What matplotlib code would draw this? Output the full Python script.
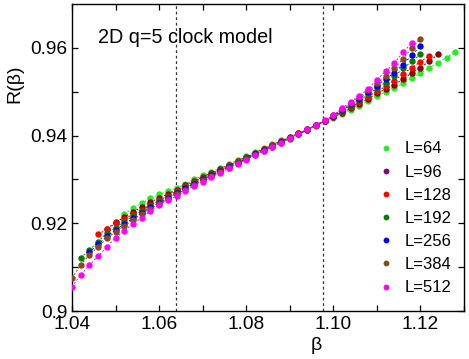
import matplotlib
matplotlib.use("Agg")
import matplotlib.pyplot as plt
from matplotlib.lines import Line2D

plt.rcParams['font.family'] = ['Liberation Sans', 'DejaVu Sans']

beta_grid = [1.040, 1.042, 1.044, 1.046, 1.048, 1.050, 1.052, 1.054, 1.056, 1.058,
             1.060, 1.062, 1.064, 1.066, 1.068, 1.070, 1.072, 1.074, 1.076, 1.078,
             1.080, 1.082, 1.084, 1.086, 1.088, 1.090, 1.092, 1.094, 1.096, 1.098,
             1.100, 1.102, 1.104, 1.106, 1.108, 1.110, 1.112, 1.114, 1.116, 1.118,
             1.120, 1.122, 1.124, 1.126, 1.128]

labels = ["L=64", "L=96", "L=128", "L=192", "L=256", "L=384", "L=512"]
start_index = [6, 4, 3, 1, 2, 0, 0]

R_64 = [.9222, .9234, .9246, .9257, .9266, .9273, .9280, .9290, .9300, .9309,
        .9317, .9326, .9335, .9344, .9353, .9362, .9371, .9380, .9389, .9397,
        .9406, .9415, .9424, .9433, .9441, .9450, .9459, .9468, .9479, .9490,
        .9499, .9508, .9519, .9531, .9543, .9554, .9566, .9578, .9591]
R_96 = [.9188, .9202, .9214, .9226, .9237, .9248, .9258, .9267, .9276, .9287,
        .9297, .9306, .9315, .9324, .9333, .9342, .9351, .9360, .9370, .9379,
        .9388, .9396, .9405, .9414, .9424, .9433, .9442, .9452, .9462, .9472,
        .9484, .9496, .9506, .9516, .9528, .9543, .9555, .9569, .9585]
R_128 = [.9175, .9186, .9200, .9209, .9221, .9231, .9242, .9252, .9263, .9274,
         .9284, .9295, .9304, .9313, .9322, .9332, .9341, .9350, .9359, .9369,
         .9378, .9387, .9395, .9405, .9414, .9423, .9433, .9443, .9454, .9465,
         .9476, .9489, .9501, .9512, .9525, .9541, .9555, .9568, .9582]
R_192 = [.9121, .9139, .9158, .9178, .9190, .9204, .9216, .9229, .9240, .9251,
         .9261, .9271, .9282, .9292, .9302, .9311, .9320, .9330, .9340, .9348,
         .9358, .9368, .9376, .9386, .9394, .9404, .9413, .9423, .9434, .9444,
         .9456, .9468, .9480, .9494, .9508, .9521, .9535, .9553, .9569, .9585]
R_256 = [.9134, .9152, .9170, .9185, .9198, .9211, .9224, .9236, .9247, .9258,
         .9268, .9280, .9290, .9300, .9309, .9319, .9329, .9338, .9347, .9357,
         .9366, .9375, .9385, .9394, .9403, .9413, .9423, .9434, .9445, .9458,
         .9471, .9484, .9499, .9514, .9529, .9543, .9562, .9583, .9604]
R_384 = [.9075, .9105, .9128, .9146, .9166, .9180, .9194, .9208, .9221, .9233,
         .9244, .9255, .9266, .9277, .9288, .9298, .9307, .9317, .9327, .9337,
         .9346, .9356, .9365, .9374, .9384, .9393, .9403, .9413, .9422, .9434,
         .9446, .9460, .9474, .9488, .9503, .9519, .9535, .9553, .9575, .9600,
         .9621]
R_512 = [.9055, .9082, .9105, .9125, .9146, .9167, .9183, .9199, .9213, .9228,
         .9242, .9253, .9262, .9274, .9285, .9295, .9305, .9315, .9325, .9335,
         .9345, .9355, .9365, .9375, .9384, .9394, .9404, .9414, .9423, .9435,
         .9446, .9462, .9477, .9491, .9507, .9527, .9547, .9565, .9590, .9611]
series = [R_64, R_96, R_128, R_192, R_256, R_384, R_512]

colors = ["#22ee22", "#8b0000", "#ff0000", "#007f00", "#0000ff", "#8b4a12", "#ff00ff"]
legend_colors = ["#22ee22", "#800080", "#ff0000", "#007f00", "#0000ff", "#8b4a12", "#ff00ff"]

vlines = [1.0638, 1.0977]
xticks = [1.04, 1.06, 1.08, 1.10, 1.12]
xtick_labels = ["1.04", "1.06", "1.08", "1.10", "1.12"]
yticks = [0.90, 0.92, 0.94, 0.96]
ytick_labels = ["0.9", "0.92", "0.94", "0.96"]

fig = plt.figure(figsize=(4.69, 3.59), dpi=100)
ax = fig.add_axes([72/469, 1-311/359, 392/469, 307/359])

for R, st, c in zip(series, start_index, colors):
    b = beta_grid[st:st + len(R)]
    ax.plot(b, R, linestyle=(0, (2, 2)), lw=0.7, color=c, marker='o',
            markersize=4.6, markeredgewidth=0, zorder=3)

for v in vlines:
    ax.axvline(v, color='#333333', lw=0.9, linestyle=(0, (2.2, 2.2)), zorder=1)

ax.set_xlim(1.04, 1.13)
ax.set_ylim(0.90, 0.97)
ax.set_xticks(xticks)
ax.set_xticklabels(xtick_labels)
ax.set_yticks(yticks)
ax.set_yticklabels(ytick_labels)
ax.set_xticks([1.05, 1.07, 1.09, 1.11, 1.13], minor=True)
ax.set_yticks([0.91, 0.93, 0.95], minor=True)
ax.tick_params(which='both', direction='in', top=True, right=True, length=4.5, width=0.9)
ax.tick_params(which='major', labelsize=13.8, pad=3.5)
for s in ax.spines.values():
    s.set_linewidth(1.0)

ax.text(0.066, 0.873, "2D q=5 clock model", transform=ax.transAxes, fontsize=14.2,
        ha='left', va='baseline')
ax.set_ylabel("R(β)", fontsize=14)
ax.yaxis.set_label_coords(-0.125, 0.74)
ax.set_xlabel("β", fontsize=14)
ax.xaxis.set_label_coords(0.622, -0.085)

handles = [Line2D([], [], linestyle='none', marker='o', markersize=4.2,
                  markeredgewidth=0, color=c) for c in legend_colors]
ax.legend(handles, labels, loc='lower right', frameon=False, fontsize=12,
          handletextpad=0.6, labelspacing=0.49, borderaxespad=0.2,
          bbox_to_anchor=(0.993, 0.018), handlelength=1.0)

fig.savefig("out.png", dpi=100)
